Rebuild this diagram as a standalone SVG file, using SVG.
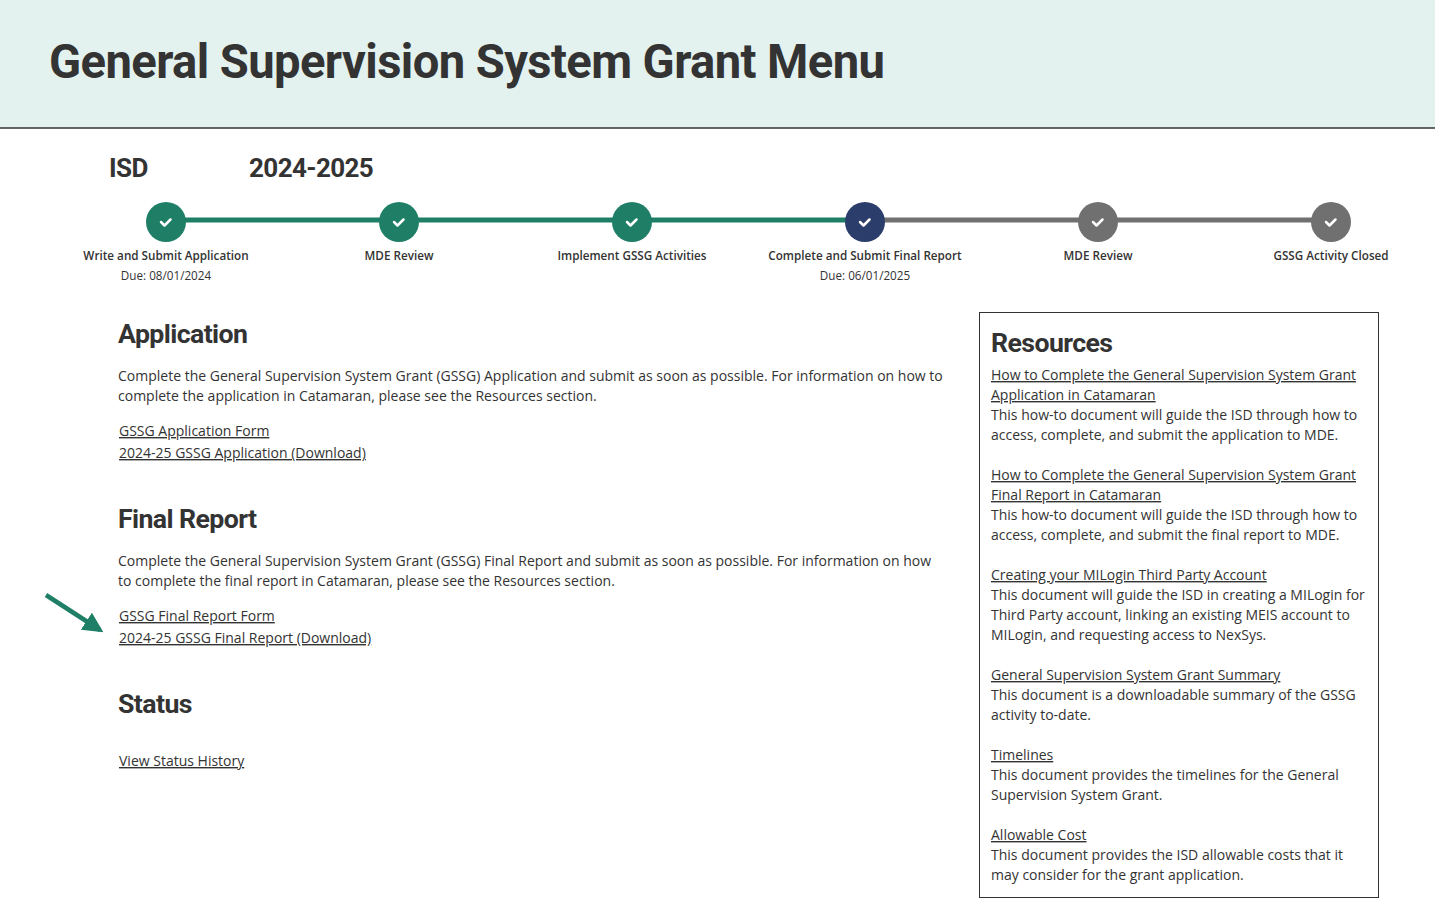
<svg xmlns="http://www.w3.org/2000/svg" width="1435" height="904" viewBox="0 0 1435 904">
<style>
.t{font-family:"Open Sans","Liberation Sans",sans-serif;fill:#333;font-size:14px}
.h{font-family:Roboto,"Liberation Sans",sans-serif;font-weight:bold;fill:#333;letter-spacing:-0.6px}
.l{text-decoration:underline}
.s{font-family:"Open Sans","Liberation Sans",sans-serif;fill:#333;font-size:11.7px;font-weight:600;text-anchor:middle}
.d{font-family:"Open Sans","Liberation Sans",sans-serif;fill:#333;font-size:11.7px;text-anchor:middle}
.ck{fill:none;stroke:#fff;stroke-width:2.5;stroke-linecap:round;stroke-linejoin:round}
</style>
<defs>
<marker id="ah" viewBox="0 0 10 10" refX="8" refY="5" markerWidth="4.5" markerHeight="4.5" orient="auto"><path d="M0,0L10,5L0,10z" fill="#1f7f66"/></marker>
</defs>
<rect width="1435" height="904" fill="#fff"/>
<g id="header">
<rect width="1435" height="128" fill="#e3f1ef"/>
<line x1="0" y1="128" x2="1435" y2="128" stroke="#333" stroke-width="1.5"/>
<text x="49" y="78" class="h" font-size="47.2">General Supervision System Grant Menu</text>
</g>
<text x="109" y="177" class="h" font-size="26">ISD</text>
<text x="249" y="177" class="h" font-size="26">2024-2025</text>
<g id="connectors">
<line x1="166" y1="220" x2="865" y2="220" stroke="#1f7f66" stroke-width="5"/>
<line x1="865" y1="220" x2="1331" y2="220" stroke="#707070" stroke-width="5"/>
<line x1="46" y1="595" x2="100" y2="630" stroke="#1f7f66" stroke-width="4.5" marker-end="url(#ah)"/>
</g>
<g id="step1"><circle cx="166" cy="222" r="20" fill="#1f7f66"/><path class="ck" d="M161,222l3.5,3.5l6,-6"/><text x="166" y="260" class="s">Write and Submit Application</text><text x="166" y="280" class="d">Due: 08/01/2024</text></g>
<g id="step2"><circle cx="399" cy="222" r="20" fill="#1f7f66"/><path class="ck" d="M394,222l3.5,3.5l6,-6"/><text x="399" y="260" class="s">MDE Review</text></g>
<g id="step3"><circle cx="632" cy="222" r="20" fill="#1f7f66"/><path class="ck" d="M627,222l3.5,3.5l6,-6"/><text x="632" y="260" class="s">Implement GSSG Activities</text></g>
<g id="step4"><circle cx="865" cy="222" r="20" fill="#2b3d6b"/><path class="ck" d="M860,222l3.5,3.5l6,-6"/><text x="865" y="260" class="s">Complete and Submit Final Report</text><text x="865" y="280" class="d">Due: 06/01/2025</text></g>
<g id="step5"><circle cx="1098" cy="222" r="20" fill="#707070"/><path class="ck" d="M1093,222l3.5,3.5l6,-6"/><text x="1098" y="260" class="s">MDE Review</text></g>
<g id="step6"><circle cx="1331" cy="222" r="20" fill="#707070"/><path class="ck" d="M1326,222l3.5,3.5l6,-6"/><text x="1331" y="260" class="s">GSSG Activity Closed</text></g>
<g id="application">
<text x="118" y="343" class="h" font-size="26.7">Application</text>
<text x="118" y="381" class="t">Complete the General Supervision System Grant (GSSG) Application and submit as soon as possible. For information on how to</text>
<text x="118" y="401" class="t">complete the application in Catamaran, please see the Resources section.</text>
<text x="119" y="436" class="t l">GSSG Application Form</text>
<text x="119" y="458" class="t l">2024-25 GSSG Application (Download)</text>
</g>
<g id="final">
<text x="118" y="528" class="h" font-size="26.7">Final Report</text>
<text x="118" y="566" class="t">Complete the General Supervision System Grant (GSSG) Final Report and submit as soon as possible. For information on how</text>
<text x="118" y="586" class="t">to complete the final report in Catamaran, please see the Resources section.</text>
<text x="119" y="621" class="t l">GSSG Final Report Form</text>
<text x="119" y="643" class="t l">2024-25 GSSG Final Report (Download)</text>
</g>
<g id="status">
<text x="118" y="713" class="h" font-size="26.7">Status</text>
<text x="119" y="766" class="t l">View Status History</text>
</g>
<g id="resources">
<rect x="979.5" y="312.5" width="399" height="585" fill="none" stroke="#333" stroke-width="1"/>
<text x="991" y="352" class="h" font-size="26.7">Resources</text>
<text x="991" y="380" class="t l">How to Complete the General Supervision System Grant</text>
<text x="991" y="400" class="t l">Application in Catamaran</text>
<text x="991" y="420" class="t">This how-to document will guide the ISD through how to</text>
<text x="991" y="440" class="t">access, complete, and submit the application to MDE.</text>
<text x="991" y="480" class="t l">How to Complete the General Supervision System Grant</text>
<text x="991" y="500" class="t l">Final Report in Catamaran</text>
<text x="991" y="520" class="t">This how-to document will guide the ISD through how to</text>
<text x="991" y="540" class="t">access, complete, and submit the final report to MDE.</text>
<text x="991" y="580" class="t l">Creating your MILogin Third Party Account</text>
<text x="991" y="600" class="t">This document will guide the ISD in creating a MILogin for</text>
<text x="991" y="620" class="t">Third Party account, linking an existing MEIS account to</text>
<text x="991" y="640" class="t">MILogin, and requesting access to NexSys.</text>
<text x="991" y="680" class="t l">General Supervision System Grant Summary</text>
<text x="991" y="700" class="t">This document is a downloadable summary of the GSSG</text>
<text x="991" y="720" class="t">activity to-date.</text>
<text x="991" y="760" class="t l">Timelines</text>
<text x="991" y="780" class="t">This document provides the timelines for the General</text>
<text x="991" y="800" class="t">Supervision System Grant.</text>
<text x="991" y="840" class="t l">Allowable Cost</text>
<text x="991" y="860" class="t">This document provides the ISD allowable costs that it</text>
<text x="991" y="880" class="t">may consider for the grant application.</text>
</g>
</svg>
